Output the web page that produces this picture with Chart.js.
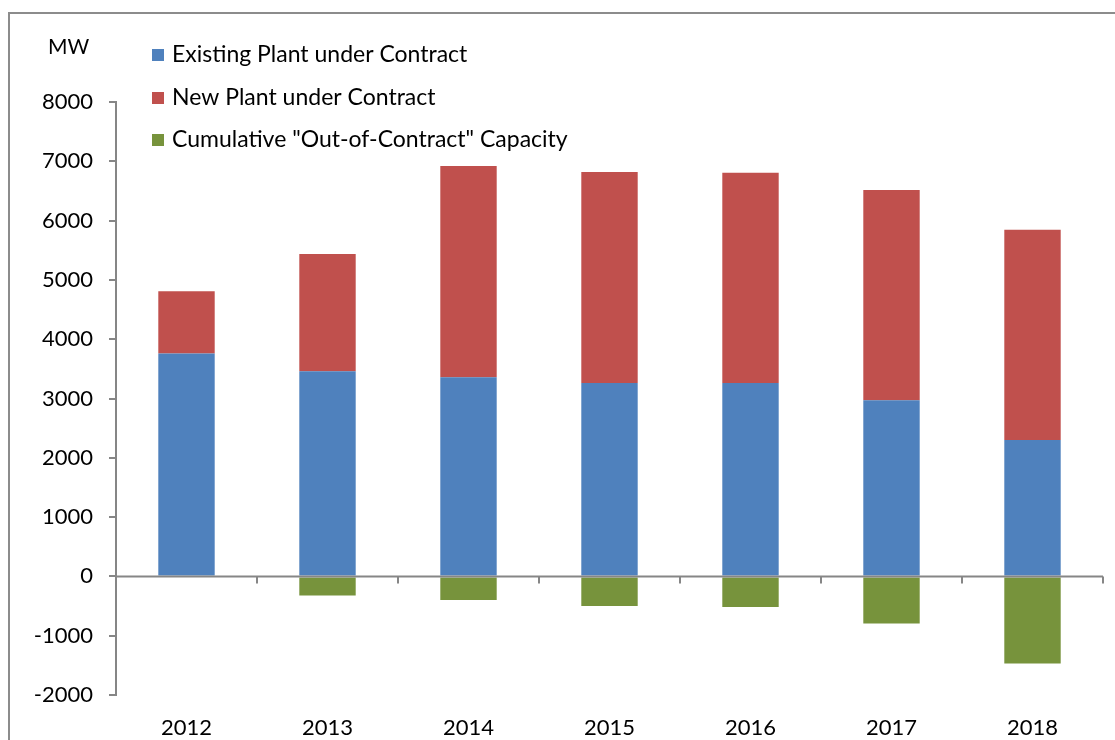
<!DOCTYPE html>
<html>
<head>
<meta charset="utf-8">
<script src="https://cdn.jsdelivr.net/npm/chart.js@4.4.1/dist/chart.umd.min.js"></script>
<style>
    body { margin: 0; background: #fff; overflow: hidden; }
    #wrap { position: relative; width: 1115px; height: 740px; }
    #frame { position: absolute; left: 8px; top: 12px; width: 1200px; height: 800px;
             border: 2px solid #8c8c8c; pointer-events: none; }
</style>
</head>
<body>
<div id="wrap">
    <canvas id="chart1" width="1115" height="740"></canvas>
    <div id="frame"></div>
</div>
<script>
// values (MW)
var years = ['2012', '2013', '2014', '2015', '2016', '2017', '2018'];
var existingPlant = [3760, 3460, 3360, 3260, 3260, 2970, 2300];
var newPlant = [1050, 1975, 3560, 3560, 3545, 3545, 3545];
var outOfContract = [0, -320, -400, -500, -515, -795, -1470];
var seriesNames = ['Existing Plant under Contract', 'New Plant under Contract', 'Cumulative "Out-of-Contract" Capacity'];
var unitLabel = 'MW';

var fontFamily = 'Lato, "Open Sans", sans-serif';
var axisColor = '#868686';

// zero line + category ticks, legend and unit label
var extras = {
    id: 'extras',
    afterDatasetsDraw: function (chart) {
        var ctx = chart.ctx;
        var x = chart.scales.x, y = chart.scales.y;
        var area = chart.chartArea;
        var y0 = y.getPixelForValue(0);
        var half = (x.getPixelForValue(1) - x.getPixelForValue(0)) / 2;
        ctx.save();
        ctx.strokeStyle = axisColor;
        ctx.lineWidth = 2;
        ctx.beginPath();
        ctx.moveTo(area.left, y0);
        ctx.lineTo(area.right, y0);
        for (var i = 0; i < years.length; i++) {
            var xb = Math.round(x.getPixelForValue(i) + half);
            ctx.moveTo(xb, y0);
            ctx.lineTo(xb, y0 + 7);
        }
        ctx.stroke();

        ctx.fillStyle = '#000';
        ctx.font = '21px ' + fontFamily;
        ctx.textBaseline = 'middle';
        ctx.textAlign = 'left';
        ctx.fillText(unitLabel, 48, 47);

        ctx.font = '23px ' + fontFamily;
        var rows = [55, 98, 140];
        chart.data.datasets.forEach(function (ds, k) {
            ctx.fillStyle = ds.backgroundColor;
            ctx.fillRect(152, rows[k] - 6, 12, 12);
            ctx.fillStyle = '#000';
            ctx.fillText(ds.label, 172, rows[k]);
        });
        ctx.restore();
    }
};

const data = {
    labels: years,
    datasets: [{
        label: seriesNames[0],
        backgroundColor: '#4F81BD',
        data: existingPlant
    }, {
        label: seriesNames[1],
        backgroundColor: '#C0504D',
        data: newPlant
    }, {
        label: seriesNames[2],
        backgroundColor: '#77933C',
        data: outOfContract
    }]
};

const config = {
    type: 'bar',
    data: data,
    options: {
        responsive: false,
        animation: false,
        barPercentage: 0.4,
        categoryPercentage: 1,
        layout: {
            padding: { top: 102, right: 12, left: 0, bottom: 0 }
        },
        plugins: {
            legend: { display: false },
            tooltip: { enabled: false }
        },
        scales: {
            x: {
                stacked: true,
                grid: { display: false, drawTicks: false },
                border: { display: false },
                ticks: {
                    color: '#000',
                    padding: 20,
                    font: { family: fontFamily, size: 22 }
                },
                afterFit: function (scale) { scale.height = 45; }
            },
            y: {
                stacked: true,
                min: -2000,
                max: 8000,
                grid: {
                    drawOnChartArea: false,
                    color: axisColor,
                    lineWidth: 2,
                    tickLength: 7
                },
                border: { color: axisColor, width: 2 },
                ticks: {
                    stepSize: 1000,
                    color: '#000',
                    padding: 16,
                    font: { family: fontFamily, size: 22 },
                    callback: function (v) { return String(v); }
                },
                afterFit: function (scale) { scale.width = 116; }
            }
        }
    },
    plugins: [extras]
};

var chart1 = new Chart(
    document.getElementById('chart1'),
    config
);
</script>
</body>
</html>
